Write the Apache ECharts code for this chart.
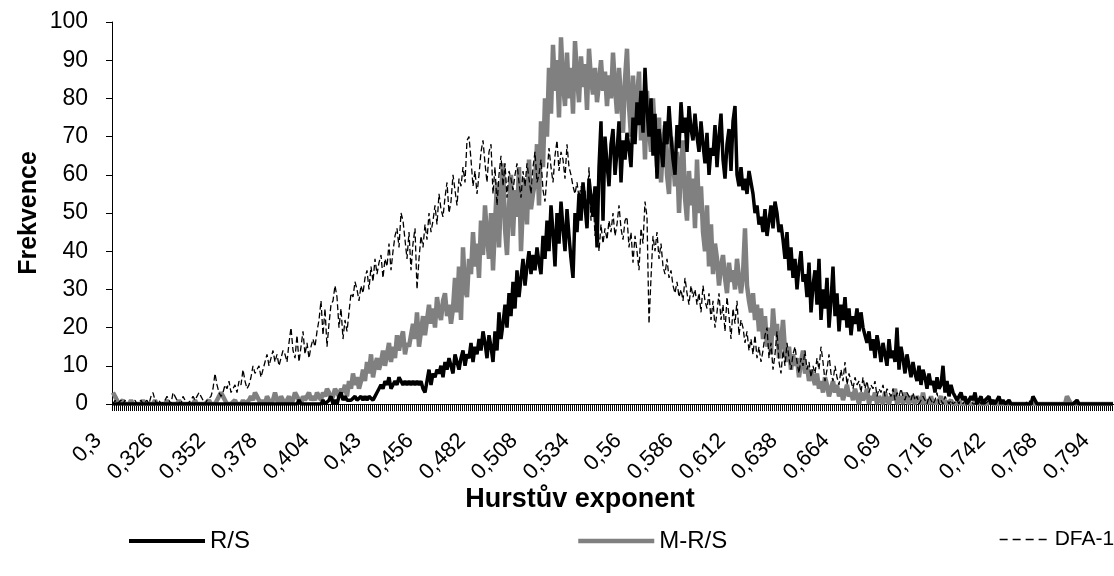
<!DOCTYPE html>
<html>
<head>
<meta charset="utf-8">
<script src="https://cdn.jsdelivr.net/npm/echarts@6/dist/echarts.min.js"></script>
<style>
html,body{margin:0;padding:0;background:#fff;}
#chart{width:1114px;height:576px;}
</style>
</head>
<body>
<div id="chart"></div>
<script>
// x categories: Hurst exponent 0.300 .. 0.800 step 0.001
const xStartMilli = 300;
const xEndMilli = 800;
const categories = [];
for (let m = xStartMilli; m <= xEndMilli; m++) categories.push((m / 1000).toString().replace('.', ','));

const seriesNames = ['R/S', 'M-R/S', 'DFA-1'];

const rsValues = [
0,0,0,0,0,0,0,0,0,0,0,0,0,0,0,0,0,0,0,0,0,0,0,0,0,
0,0,0,0,0,0,0,0,0,0,0,0,0,0,0,0,0,0,0,0,0,0,0,0,0,
0,0,0,0,0,0,0,0,0,0,0,0,0,0,0,0,0,0,0,0,0,0,0,0,0,
0,0,0,0,0,0,0,0,0,0,0,0,0,0,0,0,0,0,1,0,0,0,0,0,0,
0,0,0,0,0,1,0,0,1,2,0,1,0,2,3,1,2,1,1,1,1,2,1,1,2,
1,2,1,2,2,1,2,3,4,5,4,6,5,7,4,5,6,5,7,6,5,6,5,6,5,
6,5,6,5,6,4,3,6,9,5,8,7,9,8,10,7,11,9,12,10,8,13,11,9,12,
14,10,13,12,16,11,15,13,17,14,19,16,12,18,15,11,19,14,24,17,21,26,20,29,23,
32,25,35,28,33,38,31,36,40,34,39,35,41,37,34,44,38,48,40,52,45,36,50,42,53,
46,40,51,44,38,33,50,45,55,48,58,52,46,59,54,49,57,41,62,74,48,70,63,57,68,
72,60,66,74,58,69,64,71,67,62,75,68,79,73,82,71,88,77,70,80,65,76,59,72,67,
62,74,68,78,70,64,60,73,67,79,71,75,66,78,72,69,76,70,66,74,68,63,71,60,67,
65,73,62,70,76,64,59,68,72,61,74,78,60,57,62,56,59,55,61,58,55,50,52,47,49,
45,51,44,48,52,46,53,50,45,47,43,38,45,35,41,33,38,30,36,40,32,34,28,37,24,
31,35,26,38,22,30,25,33,20,27,36,23,29,19,26,22,28,20,25,18,23,21,25,19,24,
20,18,16,19,14,17,12,18,15,11,16,13,10,17,12,14,11,20,9,15,12,8,13,10,7,
11,8,6,10,5,9,7,4,8,5,6,3,7,4,5,10,3,6,2,5,3,2,1,2,3,
1,2,0,1,2,1,3,0,1,2,0,1,1,2,0,1,0,1,2,0,1,0,0,1,0,
0,0,0,0,0,0,0,0,0,0,2,1,0,0,0,0,0,0,0,0,0,0,0,0,0,
0,0,0,0,0,0,0,1,0,0,0,0,0,0,0,0,0,0,0,0,0,0,0,0,0,
0
];

const mrsValues = [
3,2,1,0,0,1,0,0,0,1,0,0,0,0,0,1,0,0,0,0,0,1,0,0,0,
0,0,1,0,0,0,0,0,1,0,0,0,0,0,0,0,1,0,0,0,0,0,0,1,0,
0,0,1,2,3,2,1,0,0,0,0,1,0,0,0,1,0,0,1,2,1,3,2,1,0,
1,0,2,1,0,1,3,1,0,2,1,0,1,2,0,1,3,2,1,0,2,1,2,3,1,
2,1,3,2,1,3,2,4,3,1,2,4,3,2,4,3,5,2,6,4,8,5,7,4,6,
9,6,11,8,13,7,10,12,9,11,14,10,13,16,11,15,12,18,14,17,19,13,16,15,18,
21,17,24,15,19,23,18,22,26,21,25,20,28,24,22,27,29,23,26,21,25,33,24,36,22,
41,30,28,38,34,45,36,42,33,48,39,52,44,38,50,35,47,58,41,55,63,46,39,52,60,
44,56,49,62,40,53,59,47,64,51,55,58,68,52,74,62,80,70,88,76,94,82,90,75,96,
84,78,92,80,88,76,95,86,79,91,83,89,77,93,85,81,88,79,84,90,82,87,78,86,80,
92,83,76,88,80,71,85,93,78,70,86,74,80,87,69,78,64,82,72,66,80,70,62,75,58,
68,73,60,55,70,64,57,66,50,62,69,54,48,61,52,59,46,64,50,57,45,40,52,36,47,
34,42,38,31,36,39,33,29,37,32,35,30,38,33,29,34,46,31,27,24,29,22,26,19,25,
17,23,15,20,13,25,18,21,12,16,22,14,11,15,9,13,10,12,7,11,14,8,10,6,9,
7,5,8,4,6,3,7,5,2,4,6,3,5,2,4,1,3,5,2,3,1,4,2,0,3,
1,2,4,0,2,1,3,0,2,1,0,3,1,0,2,1,4,0,1,2,0,3,1,0,2,
1,0,2,1,0,3,0,1,0,2,0,1,0,0,2,0,1,0,0,1,0,0,0,1,0,
0,0,1,0,0,0,0,1,0,0,0,0,0,0,1,0,0,0,0,0,0,0,0,0,0,
0,0,0,0,0,0,0,0,0,0,0,0,0,0,0,0,0,0,0,0,0,0,0,0,0,
0,0,2,1,0,0,0,0,0,0,0,0,0,0,0,0,0,0,0,0,0,0,0,0,0,
0
];

const dfaValues = [
0,1,0,0,1,0,1,0,0,0,0,1,0,0,1,0,0,1,0,2,3,1,0,1,0,
0,1,2,1,0,3,2,1,1,0,2,1,0,0,1,2,1,2,3,2,1,0,1,1,2,
4,8,5,3,2,3,5,4,6,3,4,5,3,6,5,9,6,4,5,7,10,8,9,10,7,
9,11,13,10,12,14,11,13,10,12,14,13,11,16,20,14,12,18,11,15,19,13,16,12,15,
17,15,19,22,27,18,25,15,21,26,27,31,28,20,25,17,22,19,24,29,28,32,30,27,31,
29,33,35,30,36,32,38,34,37,39,33,38,36,42,35,40,44,46,41,50,48,43,38,45,35,
42,46,30,38,44,41,47,43,50,45,48,52,47,55,51,49,54,58,50,53,60,56,52,59,57,
62,58,69,70,64,57,61,55,60,66,69,63,58,66,68,55,62,52,60,65,57,63,54,61,59,
56,60,63,58,54,61,57,63,59,55,62,66,58,60,64,56,53,60,67,62,58,65,69,61,66,
64,59,68,62,60,57,55,58,54,57,52,56,50,62,48,55,44,52,40,47,42,46,43,48,45,
50,44,47,52,46,43,48,49,41,45,37,44,40,35,46,42,53,49,21,33,44,40,45,38,42,
36,34,38,33,35,31,29,32,28,30,27,33,29,26,31,28,30,26,29,24,31,27,25,29,22,
27,20,24,29,22,26,19,28,23,17,25,21,27,18,22,20,16,19,14,17,13,18,12,15,11,
14,18,20,12,16,9,13,19,11,8,14,10,16,12,9,13,15,11,8,12,10,14,9,11,7,
10,8,12,9,15,11,6,9,13,8,6,10,7,5,9,6,11,5,8,6,4,7,5,6,3,
7,4,6,3,5,4,6,2,4,3,5,2,4,3,2,4,1,3,2,4,2,1,3,2,1,
3,1,2,0,1,2,1,0,2,1,0,1,3,0,1,0,2,1,0,1,0,0,1,0,2,
0,1,0,0,1,0,0,0,1,0,0,0,0,1,0,0,0,0,0,0,1,0,0,0,0,
0,0,0,0,0,0,0,0,1,0,0,0,0,0,0,0,0,0,0,0,0,0,0,0,0,
0,0,0,0,0,0,0,0,0,0,0,0,0,0,0,0,0,0,0,0,0,0,0,0,0,
0
];

const yTicks = [0,10,20,30,40,50,60,70,80,90,100];

const FONT = '"Liberation Sans", Arial, sans-serif';
const chart = echarts.init(document.getElementById('chart'), null, {renderer: 'canvas'});

function legendFor(name, left, width, fontSize, lineStyle) {
  return {
    data: [name], left: left, top: 524, orient: 'horizontal',
    itemWidth: width, itemHeight: 22, itemGap: 0, selectedMode: false,
    itemStyle: {opacity: 0},
    lineStyle: lineStyle,
    textStyle: {fontFamily: FONT, fontSize: fontSize, color: '#000'}
  };
}

chart.setOption({
  animation: false,
  backgroundColor: '#fff',
  grid: {left: 112, right: 0, top: 22, bottom: 172, containLabel: false},
  legend: [
    legendFor(seriesNames[0], 122, 76, 24, {width: 4}),
    legendFor(seriesNames[1], 571, 76, 24, {width: 4.5}),
    legendFor(seriesNames[2], 994, 50, 21, {width: 1.3, type: [8, 5]})
  ],
  xAxis: {
    type: 'category', data: categories, boundaryGap: true,
    name: 'Hurstův exponent', nameLocation: 'middle', nameGap: 82, nameMoveOverlap: false,
    nameTextStyle: {fontFamily: FONT, fontSize: 27, fontWeight: 'bold', color: '#000', padding: [0, 66, 0, 0]},
    axisLine: {show: true, lineStyle: {color: '#000', width: 1}},
    axisTick: {show: true, interval: 0, length: 7, lineStyle: {color: '#000', width: 1}},
    axisLabel: {interval: 25, rotate: 45, margin: 34, verticalAlign: 'bottom', align: 'right',
      padding: [0, 10, 0, 0], fontFamily: FONT, fontSize: 22, color: '#000'},
    splitLine: {show: false}
  },
  yAxis: {
    type: 'value', min: 0, max: 100, interval: 10,
    name: 'Frekvence', nameLocation: 'middle', nameGap: 70, nameRotate: 90, nameMoveOverlap: false,
    nameTextStyle: {fontFamily: FONT, fontSize: 25, fontWeight: 'bold', color: '#000'},
    axisLine: {show: true, lineStyle: {color: '#000', width: 1}},
    axisTick: {show: true, length: 6, lineStyle: {color: '#000'}},
    axisLabel: {margin: 24, fontFamily: FONT, fontSize: 23, color: '#000',
      formatter: v => yTicks.includes(v) ? String(v) : ''},
    splitLine: {show: false}
  },
  series: [
    {name: seriesNames[1], type: 'line', data: mrsValues, showSymbol: false, symbol: 'none',
     lineStyle: {color: '#808080', width: 4.5}, itemStyle: {color: '#808080'}, z: 2},
    {name: seriesNames[0], type: 'line', data: rsValues, showSymbol: false, symbol: 'none',
     lineStyle: {color: '#000', width: 3.5}, itemStyle: {color: '#000'}, z: 3},
    {name: seriesNames[2], type: 'line', data: dfaValues, showSymbol: false, symbol: 'none',
     lineStyle: {color: '#000', width: 1.3, type: [6, 3]}, itemStyle: {color: '#000'}, z: 4}
  ]
});
</script>
</body>
</html>
